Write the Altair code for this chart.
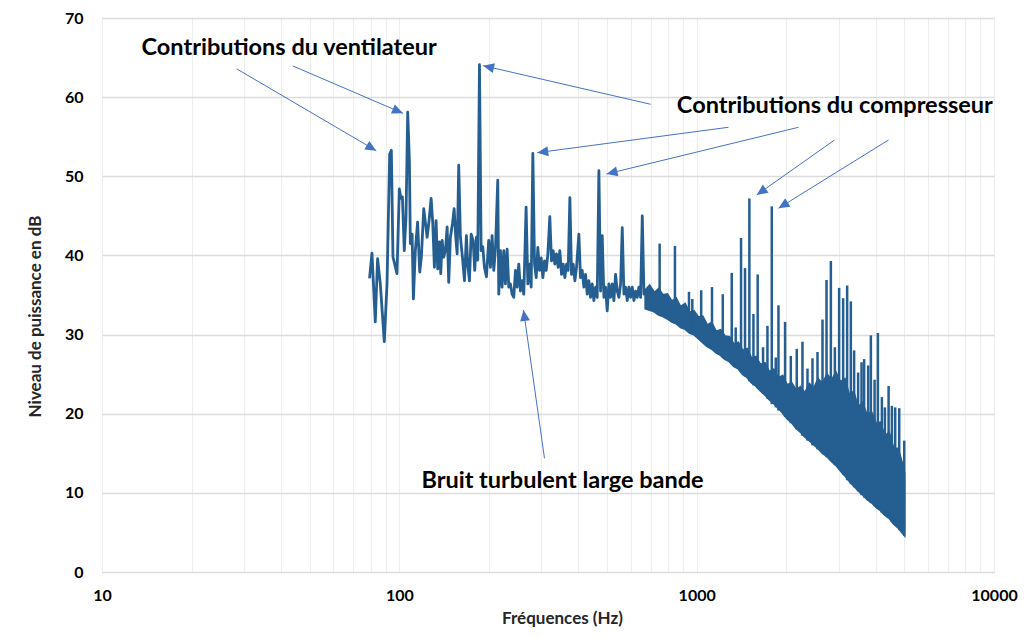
import altair as alt
import pandas as pd

# ---- low-frequency trace (Hz, dB) ----
line_freq = [79.4, 80.9, 83.0, 84.5, 86.3, 89.0, 90.9, 92.8, 94.0, 95.2, 98.2, 100.0, 101.3, 102.4,
             103.9, 105.3, 106.7, 108.1, 108.9, 110.4, 111.5, 113.2, 115.2, 117.1, 118.6, 120.8,
             122.7, 124.0, 125.9, 127.9, 129.5, 131.2, 132.9, 134.6, 136.4, 137.8, 139.3, 141.0,
             142.9, 144.8, 146.6, 148.5, 150.9, 152.9, 154.8, 156.5, 158.4, 160.5, 163.0, 165.6,
             168.1, 169.8, 172.1, 174.4, 177.1, 179.3, 181.7, 183.5, 186.0, 188.4, 190.8, 193.3,
             196.3, 199.8, 202.5, 205.1, 207.8, 210.5, 214.3, 216.0, 218.8, 221.6, 224.5, 227.4,
             230.4, 233.4, 236.4, 239.5, 242.6, 245.8, 249.0, 252.2, 255.5, 258.8, 262.2, 266.9,
             270.5, 274.0, 277.6, 281.2, 284.9, 288.6, 292.3, 296.1, 300.0, 303.9, 307.9, 311.9,
             315.9, 320.7, 324.9, 329.1, 333.4, 337.7, 342.1, 346.6, 351.1, 355.7, 360.3, 365.0,
             369.7, 374.6, 379.4, 384.4, 389.4, 394.4, 401.6, 406.8, 412.1, 417.5, 422.9, 428.4,
             434.0, 439.6, 445.3, 451.1, 457.0, 462.9, 469.0, 475.1, 481.2, 487.5, 493.8, 500.2,
             506.8, 513.4, 520.0, 526.8, 533.7, 540.6, 547.6, 554.8, 562.0, 569.3, 576.7, 584.2,
             591.8, 599.5, 607.3, 615.2, 623.2, 631.3, 639.5, 647.8, 656.3, 664.8, 673.5, 682.2,
             691.3, 700.3]
line_db = [37.1, 40.3, 31.6, 39.6, 36.4, 29.1, 36.4, 52.8, 53.3, 39.8, 37.7, 48.4, 47.2, 47.4,
           40.6, 44.8, 58.1, 52.0, 41.5, 42.7, 34.5, 40.6, 44.2, 37.9, 39.8, 45.9,
           43.8, 42.3, 44.4, 47.2, 44.2, 38.5, 44.4, 38.3, 41.7, 37.7, 41.9, 39.8,
           40.6, 43.6, 36.6, 42.3, 44.0, 45.9, 42.3, 40.2, 51.4, 42.3, 39.8, 36.8,
           42.5, 38.9, 36.8, 42.7, 41.9, 38.1, 42.3, 39.4, 64.1, 40.6, 41.1, 38.5,
           37.3, 41.9, 38.5, 42.5, 38.1, 40.8, 49.5, 35.1, 40.6, 36.0, 40.6, 36.4,
           40.8, 36.0, 36.4, 35.1, 34.7, 38.1, 36.0, 38.9, 35.5, 36.8, 35.1, 46.1,
           36.4, 38.9, 36.0, 52.9, 38.9, 37.2, 41.0, 38.1, 39.7, 37.2, 39.3, 38.1,
           40.2, 44.9, 39.3, 40.6, 38.9, 40.2, 38.5, 40.6, 37.6, 38.9, 37.2, 38.9,
           38.1, 47.3, 37.6, 38.9, 36.8, 38.5, 42.7, 37.2, 38.1, 36.0, 37.6, 35.1,
           36.8, 34.7, 36.4, 34.3, 36.0, 34.7, 50.7, 35.5, 42.5, 34.7, 36.0, 33.0,
           36.4, 34.7, 36.4, 34.3, 37.6, 35.5, 34.7, 36.4, 43.5, 35.1, 36.0, 34.3,
           36.0, 34.7, 36.0, 34.3, 35.5, 34.7, 36.0, 34.7, 45.0, 35.1, 35.5, 34.3,
           36.0, 34.7]

# ---- dense broadband band above ~670 Hz (lower / upper envelope) ----
band_freq = [672, 695, 720, 745, 770, 797, 825, 853, 883, 914, 946, 979, 1013, 1048, 1085, 1123,
             1162, 1203, 1245, 1288, 1333, 1380, 1428, 1478, 1530, 1583, 1639, 1696, 1755, 1817,
             1880, 1946, 2014, 2085, 2158, 2233, 2311, 2392, 2476, 2562, 2652, 2745, 2841, 2940,
             3043, 3149, 3259, 3373, 3491, 3613, 3740, 3870, 4006, 4146, 4291, 4441, 4596, 4757,
             4923, 5000]
band_low = [33.3, 33.1, 32.9, 32.5, 32.3, 32.0, 31.6, 31.4, 30.9, 30.7, 30.2, 30.0, 29.5, 29.0,
            28.5, 28.2, 27.7, 27.4, 26.9, 26.6, 26.0, 25.7, 25.0, 24.6, 23.9, 23.5, 22.9, 22.4,
            21.8, 21.3, 20.7, 20.1, 19.4, 18.9, 18.2, 17.7, 17.1, 16.6, 16.1, 15.6, 15.0, 14.6,
            14.0, 13.5, 12.8, 12.2, 11.5, 10.9, 10.3, 9.8, 9.2, 8.8, 8.2, 7.8, 7.2, 6.8, 6.1,
            5.6, 4.9, 4.6]
band_high = [35.6, 36.2, 35.3, 35.8, 35.0, 35.1, 34.2, 34.6, 33.5, 33.9, 32.8, 33.0, 32.2, 32.3,
             31.2, 31.5, 30.4, 30.6, 29.8, 29.7, 28.8, 29.0, 28.0, 28.2, 27.0, 27.2, 26.2, 26.4,
             25.3, 25.6, 24.5, 24.8, 23.6, 23.9, 23.0, 23.4, 22.6, 23.8, 23.2, 24.4, 23.8, 25.0,
             24.2, 25.2, 24.0, 24.4, 22.4, 22.8, 20.8, 21.4, 19.8, 20.2, 18.8, 18.9, 17.2, 17.6,
             15.6, 15.6, 13.6, 12.5]

# ---- tonal spikes (Hz, top dB, base dB) ----
spike_freq = [750.7, 845.2, 942.1, 966.8, 1035.5, 1126, 1224, 1312, 1353, 1410, 1454, 1504, 1552,
              1604, 1672, 1730, 1789, 1845, 1884, 1983, 2073, 2171, 2269, 2359, 2452, 2549, 2650,
              2734, 2827, 2916, 3014, 3109, 3207, 3300, 3385, 3492, 3585, 3658, 3774, 3854, 3966,
              4069, 4197, 4296, 4421, 4535, 4653, 4800, 4990]
spike_top = [41.5, 41.2, 35.4, 34.5, 35.6, 36.0, 35.1, 37.8, 30.9, 42.2, 38.4, 47.2, 32.6,
             37.6, 28.4, 31.1, 46.2, 27.1, 33.7, 31.6, 27.3, 28.2, 29.1, 25.7, 27.0, 27.8, 31.9,
             36.9, 39.3, 28.4, 35.9, 34.6, 36.2, 34.2, 28.0, 25.2, 26.5, 26.9, 26.1, 29.9, 24.3,
             30.2, 22.1, 20.8, 23.5, 21.0, 20.8, 20.7, 16.6]
spike_base = [32.6, 31.4, 30.4, 30.2, 29.3, 28.1, 27.1, 26.3, 25.8, 25.2, 24.7, 24.1, 23.6,
              23.2, 22.5, 21.9, 21.2, 20.8, 20.4, 19.6, 18.8, 18.0, 17.2, 16.6, 16.0, 15.5, 15.0,
              14.5, 14.1, 13.5, 13.0, 12.3, 11.6, 11.1, 10.7, 10.2, 9.7, 9.4, 9.0, 8.7, 8.3,
              8.0, 7.5, 7.2, 6.8, 6.3, 5.9, 5.3, 4.6]

# ---- annotations ----
label_text = ["Contributions du ventilateur", "Contributions du compresseur",
              "Bruit turbulent large bande"]
label_freq = [42.6, 2916, 353.9]
label_db = [66.2, 58.9, 11.5]

arrow_f1 = [28.42, 43.85, 699.9, 1279, 2200, 2909, 4420, 307.7]
arrow_d1 = [63.56, 63.94, 59.10, 56.19, 56.19, 54.59, 54.59, 14.37]
arrow_f2 = [83.66, 102.9, 191.3, 290.9, 497.7, 1592, 1884, 261.6]
arrow_d2 = [53.23, 57.96, 63.98, 52.98, 50.29, 47.64, 45.96, 33.1]
arrow_angle = [120.4, 113.3, 283.0, 262.4, 256.3, 234.7, 238.2, 351.9]

x_ticks = [10, 20, 30, 40, 50, 60, 70, 80, 90, 100, 200, 300, 400, 500, 600, 700, 800, 900,
           1000, 2000, 3000, 4000, 5000, 6000, 7000, 8000, 9000, 10000]
y_ticks = [0, 10, 20, 30, 40, 50, 60, 70]

FONT = "Lato"
TRACE = "#255E91"
ARROW = "#4472C4"

line_df = pd.DataFrame({"f": line_freq, "db": line_db})
band_df = pd.DataFrame({"f": band_freq, "lo": band_low, "hi": band_high})
spike_df = pd.DataFrame({"f": spike_freq, "top": spike_top, "base": spike_base})
label_df = pd.DataFrame({"f": label_freq, "db": label_db, "t": label_text})
arrow_df = pd.DataFrame({"f1": arrow_f1, "d1": arrow_d1, "f2": arrow_f2, "d2": arrow_d2,
                         "ang": arrow_angle})

xs = alt.Scale(type="log", domain=[10, 10000], nice=False)
ys = alt.Scale(domain=[0, 70], nice=False)

x_axis = alt.Axis(values=x_ticks, title="Fréquences (Hz)",
                  labelExpr="(datum.value==10||datum.value==100||datum.value==1000||datum.value==10000) ? format(datum.value,'d') : ''",
                  labelFont=FONT, labelFontSize=16, labelFontWeight="bold", labelColor="#000000",
                  labelPadding=15, labelOverlap=False, labelFlush=False, ticks=False, domain=False,
                  gridColor="#ededed", gridWidth=1,
                  titleFont=FONT, titleFontSize=17, titleFontWeight="bold", titleColor="#262626",
                  titleX=460, titleY=46, titleBaseline="middle", titleAlign="center")
y_axis = alt.Axis(values=y_ticks, title="Niveau de puissance en dB",
                  labelFont=FONT, labelFontSize=16, labelFontWeight="bold", labelColor="#000000",
                  labelPadding=19, ticks=False, domain=False,
                  gridColor="#dcdcdc", gridWidth=1.5,
                  titleFont=FONT, titleFontSize=17, titleFontWeight="bold", titleColor="#262626",
                  titleX=-67, titleY=298, titleBaseline="middle", titleAlign="center", titleAngle=270)

band = alt.Chart(band_df).mark_area(color=TRACE, opacity=1, stroke=TRACE, strokeWidth=2).encode(
    x=alt.X("f:Q", scale=xs, axis=x_axis),
    y=alt.Y("lo:Q", scale=ys, axis=y_axis),
    y2="hi:Q",
)
spikes = alt.Chart(spike_df).mark_rule(color=TRACE, strokeWidth=2.5).encode(
    x=alt.X("f:Q", scale=xs), y=alt.Y("top:Q", scale=ys), y2="base:Q"
)
trace = alt.Chart(line_df).mark_line(color=TRACE, strokeWidth=2.8, strokeJoin="round").encode(
    x=alt.X("f:Q", scale=xs), y=alt.Y("db:Q", scale=ys)
)
arrows = alt.Chart(arrow_df).mark_rule(color=ARROW, strokeWidth=1).encode(
    x=alt.X("f1:Q", scale=xs), y=alt.Y("d1:Q", scale=ys), x2="f2:Q", y2="d2:Q"
)
heads = alt.Chart(arrow_df).mark_point(
    shape="M0,0L-0.9,2L0.9,2Z", filled=True, color=ARROW, opacity=1, size=121, strokeWidth=0
).encode(
    x=alt.X("f2:Q", scale=xs), y=alt.Y("d2:Q", scale=ys),
    angle=alt.Angle("ang:Q", scale=None)
)
labels = alt.Chart(label_df).mark_text(
    font=FONT, fontSize=23.5, fontWeight="bold", color="#000000", align="center", baseline="middle"
).encode(
    x=alt.X("f:Q", scale=xs), y=alt.Y("db:Q", scale=ys), text="t:N"
)

chart = alt.layer(band, spikes, trace, arrows, heads, labels).properties(
    width=892, height=554,
    autosize=alt.AutoSizeParams(type="none"),
    padding={"left": 94, "top": 10, "right": 25, "bottom": 56},
).configure_view(stroke="#9a9a9a", strokeWidth=1.5).configure(background="#ffffff")

chart.save("out.html", embed_options={"renderer": "svg", "actions": False})
